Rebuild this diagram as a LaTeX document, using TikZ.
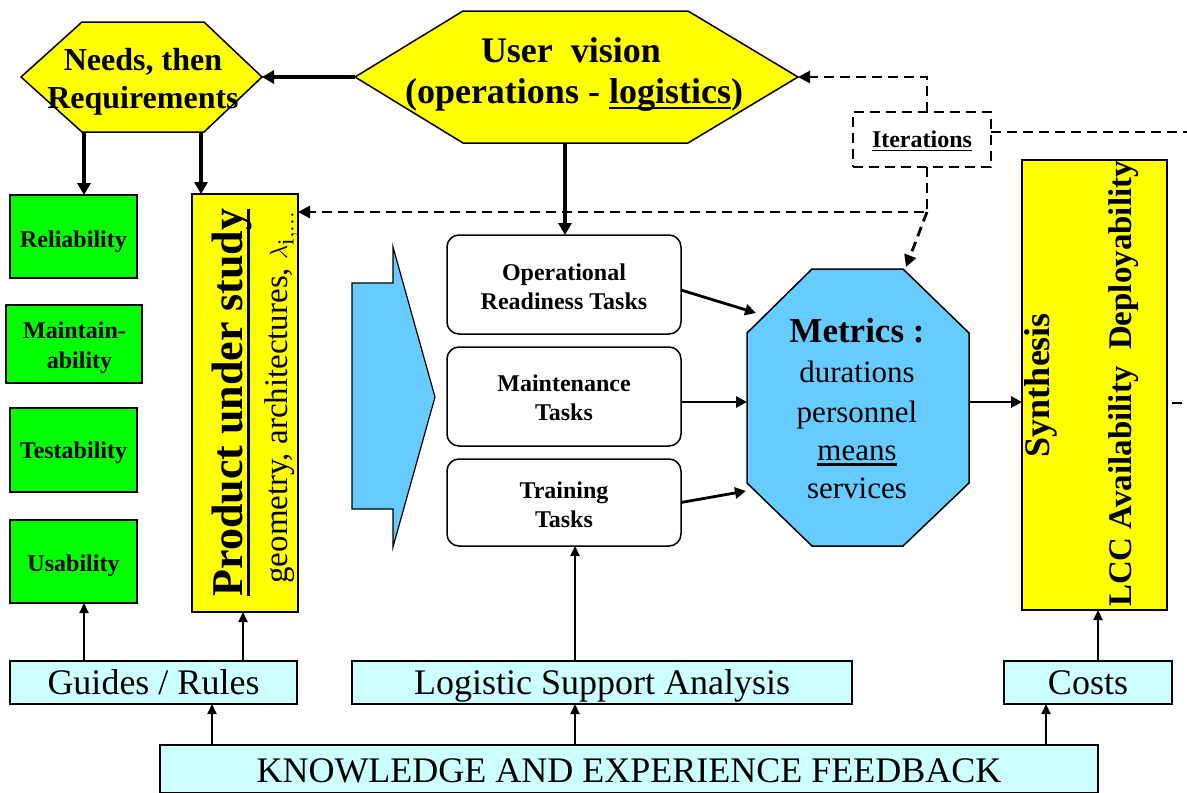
\documentclass[tikz,border=0pt]{standalone}
\usepackage{fontspec}
\setmainfont{Liberation Serif}
\usetikzlibrary{arrows.meta}
\definecolor{yel}{HTML}{FFFF00}
\definecolor{grn}{HTML}{00FF00}
\definecolor{blu}{HTML}{66CCFF}
\definecolor{cya}{HTML}{CCFFFF}
\newcommand{\myfs}[1]{\fontsize{#1pt}{#1pt}\selectfont}
\newcommand{\myul}[1]{\setbox0\hbox{#1}\rlap{\rule[-0.18em]{\wd0}{0.07em}}\box0}
\begin{document}
\begin{tikzpicture}[x=1pt,y=-1pt,
  lbl/.style={inner sep=0pt, anchor=base},
  rlbl/.style={inner sep=0pt, anchor=base, rotate=90},
  boxr/.style={draw, line width=1.5pt, inner sep=0pt, outer sep=0pt, anchor=north west},
  gbox/.style={boxr, fill=grn},
  ybox/.style={boxr, fill=yel},
  tbox/.style={boxr, fill=white, rounded corners=12pt, minimum width=234pt},
  cbox/.style={boxr, fill=cya, minimum height=43pt},
  shp/.style={draw, line width=1.5pt},
  thk/.style={line width=4.5pt, -{Triangle[length=12pt,width=13pt]}},
  med/.style={line width=2.8pt, -{Triangle[length=11pt,width=11pt]}},
  thn/.style={line width=2.2pt, -{Triangle[length=10pt,width=9pt]}},
  dsh/.style={line width=2.8pt, dash pattern=on 10pt off 6pt},
  dsharr/.style={dsh, -{Triangle[length=12pt,width=12pt]}}
]
\useasboundingbox (0,0) rectangle (1187,793);

% ---------- hexagons ----------
\draw[shp, fill=yel] (21,77) -- (82,22) -- (204,22) -- (262,77) coordinate (nR)
  -- (204,132) -- (82,132) -- cycle;
\coordinate (nB1) at (84,132);
\coordinate (nB2) at (201,132);
\node[lbl] (nt1) at (143,70) {\myfs{32}\bfseries Needs, then};
\node[lbl] (nt2) at (143,108) {\myfs{32}\bfseries Requirements};

\draw[shp, fill=yel] (355,77) coordinate (uvL) -- (463,11) -- (688,11) -- (798,77) coordinate (uvR)
  -- (688,143) -- (463,143) -- cycle;
\coordinate (uvB) at (565,143);
\node[lbl] (uv1) at (571,62) {\myfs{36}\bfseries User\ \ vision};
\node[lbl] (uv2) at (574,103) {\myfs{36}\bfseries (operations - \myul{logistics})};

% ---------- green boxes ----------
\node[gbox, minimum width=127pt, minimum height=83pt] (rel) at (10,195) {};
\node[gbox, minimum width=136pt, minimum height=78pt] (mai) at (6,305) {};
\node[gbox, minimum width=127pt, minimum height=84pt] (tes) at (10,408) {};
\node[gbox, minimum width=127pt, minimum height=83pt] (use) at (10,520) {};
\node[lbl] (relt) at (73.5,247) {\myfs{24}\bfseries Reliability};
\node[lbl] (mait1) at (74.5,338) {\myfs{24}\bfseries Maintain-};
\node[lbl] (mait2) at (79.5,368) {\myfs{24}\bfseries ability};
\node[lbl] (test) at (73.5,458) {\myfs{24}\bfseries Testability};
\node[lbl] (uset) at (73.5,571) {\myfs{24}\bfseries Usability};

% ---------- product box ----------
\node[ybox, minimum width=106pt, minimum height=418pt] (prod) at (192,194) {};
\node[rlbl] (prodt1) at (242,402.5) {\myfs{44}\bfseries \myul{Product under study}};
\node[rlbl] (prodt2) at (287,397.5) {\myfs{33}geometry, architectures, $\lambda_{\mathrm{i},...}$};

% ---------- blue arrow ----------
\draw[line width=1.2pt, fill=blu] (352,283) -- (393,283) -- (393,247) -- (435,397)
  -- (393,547) -- (393,509) -- (352,509) -- cycle;

% ---------- tasks ----------
\node[tbox, minimum height=99pt] (op) at (447,235) {};
\node[tbox, minimum height=99pt] (mt) at (447,347) {};
\node[tbox, minimum height=87pt] (tr) at (447,459) {};
\node[lbl] (opt1) at (564,280) {\myfs{24}\bfseries Operational};
\node[lbl] (opt2) at (564,309) {\myfs{24}\bfseries Readiness Tasks};
\node[lbl] (mtt1) at (564,391) {\myfs{24}\bfseries Maintenance};
\node[lbl] (mtt2) at (564,420) {\myfs{24}\bfseries Tasks};
\node[lbl] (trt1) at (564,498) {\myfs{24}\bfseries Training};
\node[lbl] (trt2) at (564,527) {\myfs{24}\bfseries Tasks};

% ---------- metrics octagon ----------
\draw[shp, fill=blu] (812,269) -- (903,269) -- (969,333) -- (969,483) -- (903,546)
  -- (812,546) -- (747,483) -- (747,333) -- cycle;
\coordinate (mA) at (756,313);
\coordinate (mB) at (747,402);
\coordinate (mC) at (746,491);
\coordinate (mR) at (969,402);
\coordinate (mT) at (906,267);
\node[lbl] (m1) at (857,342) {\myfs{35}\bfseries Metrics :};
\node[lbl] (m2) at (857,382) {\myfs{31}durations};
\node[lbl] (m3) at (857,422) {\myfs{31}personnel};
\node[lbl] (m4) at (857,460) {\myfs{31}\myul{means}};
\node[lbl] (m5) at (857,498) {\myfs{31}services};

% ---------- synthesis ----------
\node[ybox, minimum width=145pt, minimum height=450pt] (syn) at (1022,160) {};
\node[rlbl] (syn1) at (1049,385) {\myfs{36}\bfseries Synthesis};
\node[rlbl] (syn2) at (1131,384) {\myfs{33}\bfseries LCC Availability\ \ Deployability};

% ---------- iterations ----------
\node[boxr, dsh, minimum width=138pt, minimum height=55pt] (iter) at (853,112) {};
\node[lbl] (itert) at (922,147) {\myfs{24}\bfseries \myul{Iterations}};

% ---------- bottom boxes ----------
\node[cbox, minimum width=287pt] (gr) at (10,661) {};
\node[cbox, minimum width=500pt] (lsa) at (352,661) {};
\node[cbox, minimum width=168pt] (cst) at (1004,661) {};
\node[boxr, fill=cya, minimum width=938pt, minimum height=48pt] (kef) at (160,745) {};
\node[lbl] (grt) at (153.5,694) {\myfs{36}Guides / Rules};
\node[lbl] (lsat) at (602,694) {\myfs{36}Logistic Support Analysis};
\node[lbl] (cstt) at (1088,694) {\myfs{36}Costs};
\node[lbl] (keft) at (629,782) {\myfs{36}KNOWLEDGE AND EXPERIENCE FEEDBACK};

% ---------- connectors ----------
\draw[thk] (uvL) -- (nR);
\draw[thk] (nB1) -- (nB1 |- rel.north);
\draw[thk] (nB2) -- (nB2 |- prod.north);
\draw[thk] (uvB) -- (uvB |- op.north);
\draw[med] ([yshift=-5.5pt]op.east) -- (mA);
\draw[med] (mt.east |- mB) -- (mB);
\draw[med] (tr.east) -- (mC);
\draw[med] (mR) -- (mR -| syn.west);

\coordinate (xa) at (84,0);
\coordinate (xb) at (243,0);
\coordinate (xc) at (212,0);
\coordinate (xd) at (575,0);
\coordinate (xe) at (1046,0);
\coordinate (xf) at (1098,0);
\draw[thn] (gr.north -| xa) -- (use.south -| xa);
\draw[thn] (gr.north -| xb) -- (prod.south -| xb);
\draw[thn] (kef.north -| xc) -- (gr.south -| xc);
\draw[thn] (kef.north -| xd) -- (lsa.south -| xd);
\draw[thn] (kef.north -| xe) -- (cst.south -| xe);
\draw[thn] (lsa.north -| xd) -- (tr.south -| xd);
\draw[thn] (cst.north -| xf) -- (syn.south -| xf);

\coordinate (j1) at (927,77);
\coordinate (j2) at (927,212);
\coordinate (ir) at (1187,132);
\coordinate (sr) at (1187,403);
\draw[dsharr] (iter.north -| j1) -- (j1) -- (uvR);
\draw[dsharr] (iter.south -| j2) -- (j2) -- (j2 -| prod.east);
\draw[dsharr] (j2) -- (mT);
\draw[dsh] (iter.east |- ir) -- (ir);
\draw[dsh, dash phase=11pt] (syn.east |- sr) -- (sr);
\end{tikzpicture}
\end{document}
